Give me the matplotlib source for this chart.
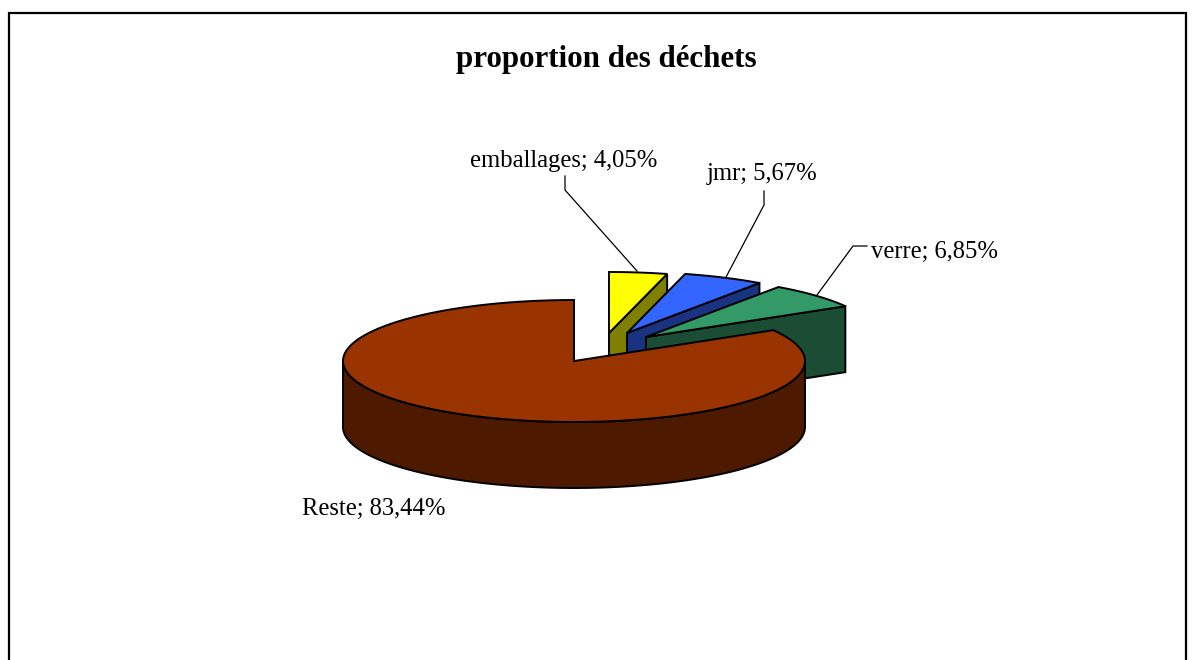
import numpy as np
import matplotlib
matplotlib.use('Agg')
import matplotlib.pyplot as plt
from matplotlib.patches import Polygon, Rectangle

plt.rcParams['font.family'] = ['Liberation Serif', 'DejaVu Serif']

title = 'proportion des déchets'
names = ['emballages', 'jmr', 'verre', 'Reste']
values = [4.05, 5.67, 6.85, 83.44]
top_colors = ['#FFFF00', '#3366FF', '#339966', '#993300']
side_colors = ['#808000', '#1A3380', '#1A4D33', '#4D1A00']

# pie geometry in image pixels
cx, cy = 574, 361
rx, ry = 231, 61
depth = 66
# how far each slice is pulled out
offsets = [(35, -28), (53, -28), (72, -24), (0, 0)]
label_pos = [(470, 161), (707, 174), (871, 252), (302, 509)]
leaders = [
    [(565, 176), (565, 190), (637, 271)],
    [(764, 191), (764, 205), (725, 279)],
    [(867, 246), (853, 246), (817, 295)],
    None,
]


def rim(a0, a1, x0, y0):
    # angles in degrees clockwise from 12 o'clock
    t = np.radians(np.linspace(a0, a1, 240))
    return np.column_stack([x0 + rx * np.sin(t), y0 - ry * np.cos(t)])


fig = plt.figure(figsize=(11.94, 6.6), dpi=100)
ax = fig.add_axes([0, 0, 1, 1])
ax.set_xlim(0, 1194)
ax.set_ylim(660, 0)
ax.axis('off')

ax.add_patch(Rectangle((8.5, 12.5), 1177, 700, fc='white', ec='black', lw=1.6, zorder=0))

edges = np.cumsum([0] + values) / sum(values) * 360
for i in range(4):
    a0, a1 = edges[i], edges[i + 1]
    x0, y0 = cx + offsets[i][0], cy + offsets[i][1]
    arc = rim(a0, a1, x0, y0)
    z = 2 + i * 2

    # cut face at the end of the slice
    if i < 3:
        end = arc[-1]
        face = [(x0, y0), end, (end[0], end[1] + depth), (x0, y0 + depth)]
        ax.add_patch(Polygon(face, fc=side_colors[i], ec='black', lw=1.4, zorder=z))
    # outer wall, front half only
    else:
        low = rim(90, 270, x0, y0)
        wall = np.vstack([low, (low + [0, depth])[::-1]])
        ax.add_patch(Polygon(wall, fc=side_colors[i], ec='black', lw=1.4, zorder=z))

    top = np.vstack([[x0, y0], arc])
    ax.add_patch(Polygon(top, fc=top_colors[i], ec='black', lw=1.4, zorder=z + 1))

ax.text(606, 59.5, title, ha='center', va='center', fontsize=22.3, fontweight='bold', color='black')

for i in range(4):
    label = f"{names[i]}; {values[i]:.2f}%".replace('.', ',')
    ax.text(label_pos[i][0], label_pos[i][1], label, ha='left', va='center', fontsize=17.7, color='black')
    if leaders[i]:
        xs, ys = zip(*leaders[i])
        ax.plot(xs, ys, color='black', lw=0.9, zorder=1)

fig.savefig('out.png', dpi=100)
